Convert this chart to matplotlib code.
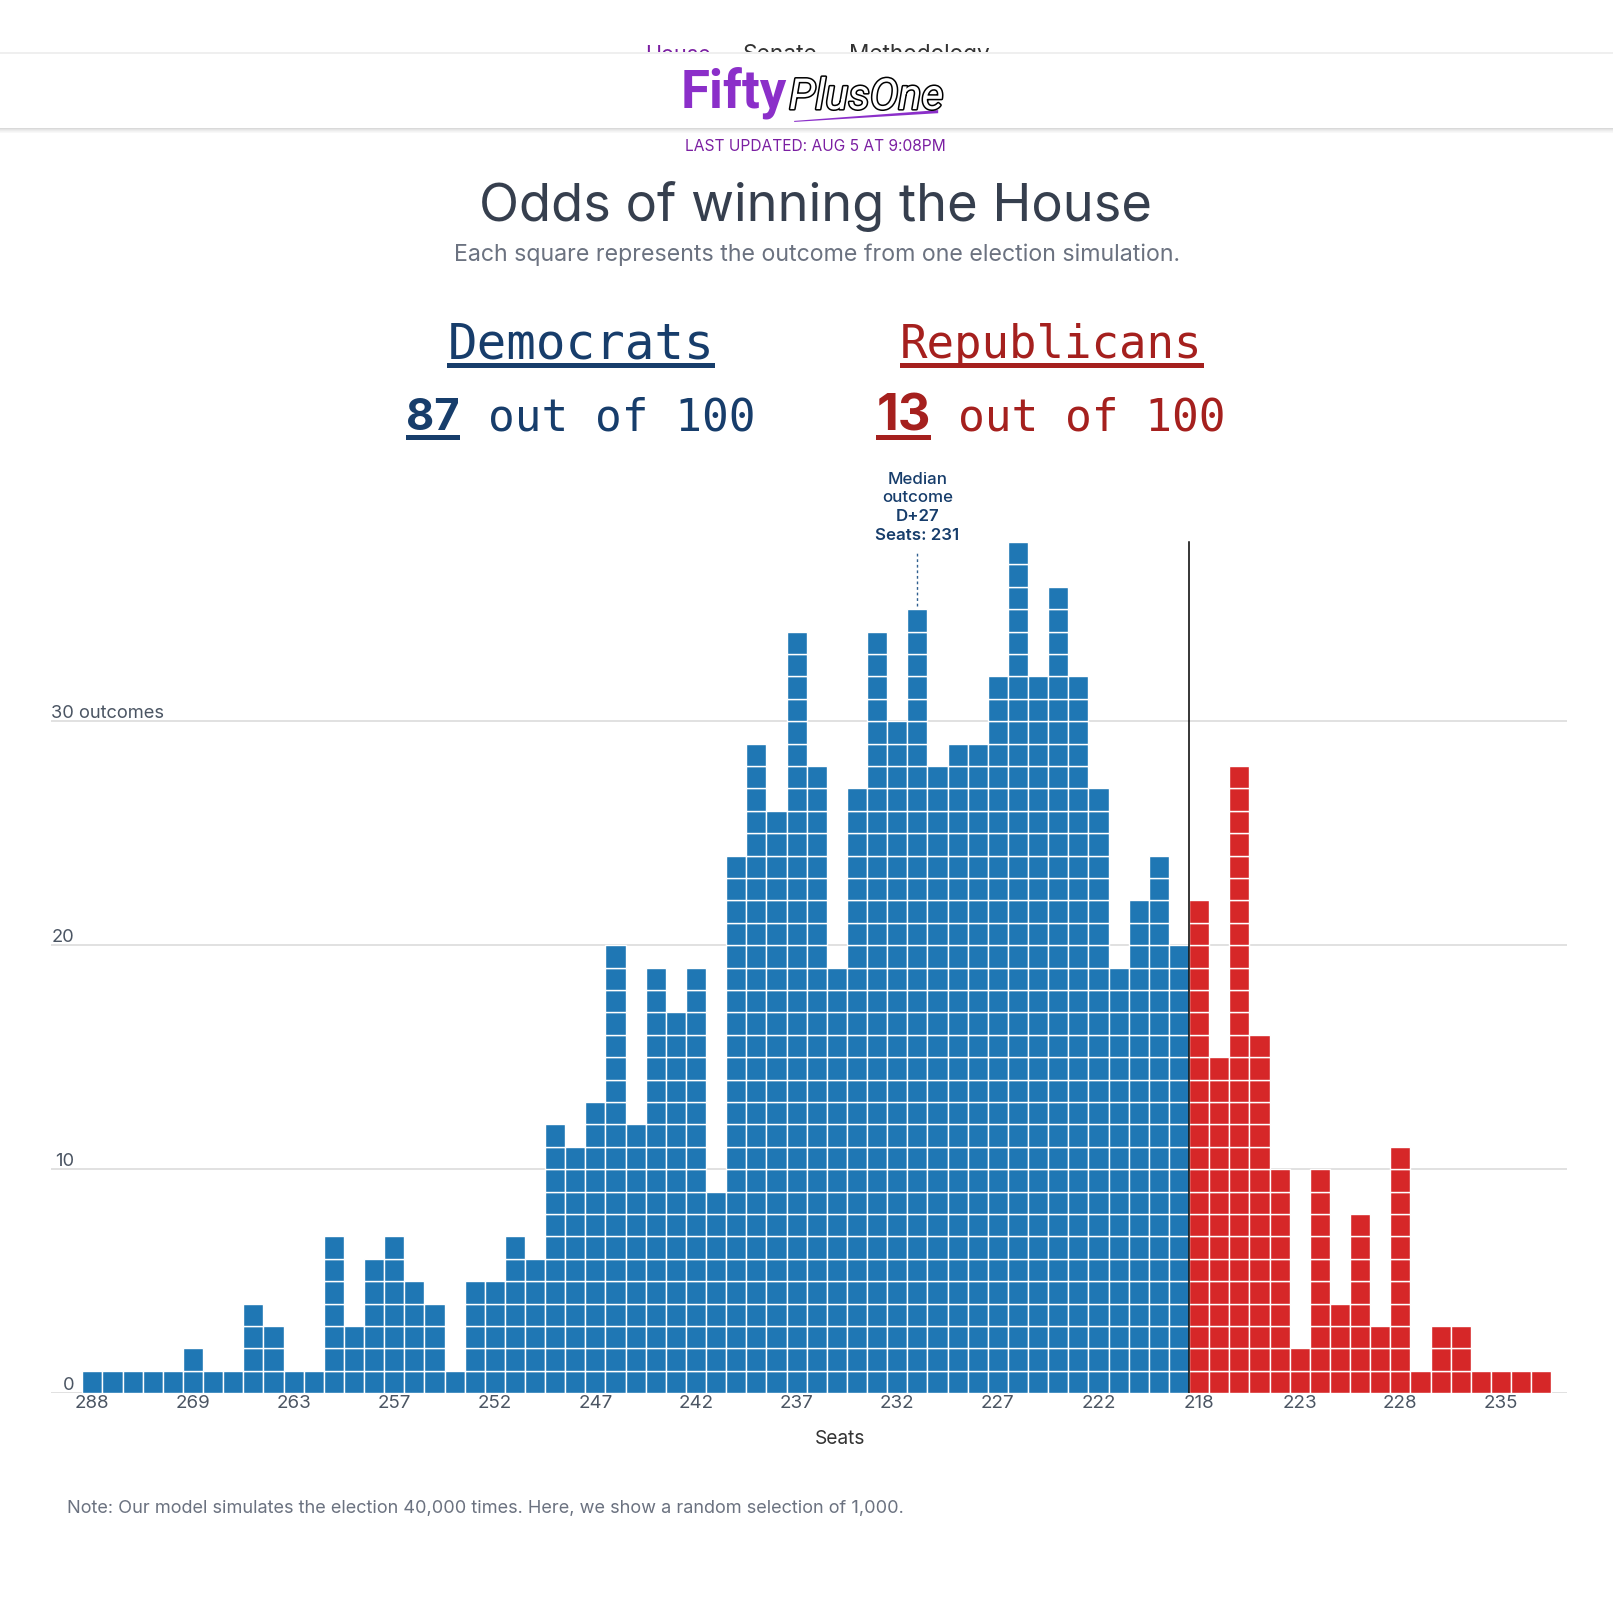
import numpy as np
import matplotlib
matplotlib.use('Agg')
import matplotlib.pyplot as plt
from matplotlib import patheffects
from matplotlib.patches import Rectangle, Polygon
from matplotlib import font_manager

# outcomes per column (1,000 simulations), left = Democratic seat counts, right = Republican
dem_counts = [1, 1, 1, 1, 1, 2, 1, 1, 4, 3, 1, 1, 7, 3, 6, 7, 5, 4, 1, 5, 5, 7, 6,
              12, 11, 13, 20, 12, 19, 17, 19, 9, 24, 29, 26, 34, 28, 19, 27, 34, 30,
              35, 28, 29, 29, 32, 38, 32, 36, 32, 27, 19, 22, 24, 20]
rep_counts = [22, 15, 28, 16, 10, 2, 10, 4, 8, 3, 11, 1, 3, 3, 1, 1, 1, 1]
tick_labels = ['288', '269', '263', '257', '252', '247', '242', '237', '232',
               '227', '222', '218', '223', '228', '235']
y_ticks = [0, 10, 20, 30]
dem_odds = 87
rep_odds = 13
median_col = 41
median_lines = ['Median', 'outcome', 'D+27', 'Seats: 231']

BLUE = '#1f77b4'
RED = '#d62728'
DEM_TXT = '#173d6b'
REP_TXT = '#a5201e'
GREY = '#6b7280'
DARK = '#363f4e'

plt.rcParams['font.family'] = ['Inter', 'DejaVu Sans']

available = {f.name for f in font_manager.fontManager.ttflist}
def pick(*names):
    for n in names:
        if n in available:
            return n
    return 'DejaVu Sans'

narrow = pick('Liberation Sans Narrow', 'Roboto', 'Lato')

W, H = 1613, 1601
fig = plt.figure(figsize=(W / 100, H / 100), dpi=100)
renderer = fig.canvas.get_renderer()
SX = W / 1568


def fx(x):
    return x / 1568


def fy(y):
    return 1 - y / 1556


def put(x, y, s, width=None, ha='left', **kw):
    t = fig.text(fx(x), fy(y), s, ha=ha, va='baseline', **kw)
    if width:
        w = t.get_window_extent(renderer).width
        t.set_fontsize(t.get_fontsize() * width * SX / w)
    return t


def bar_rect(x0, x1, y0, y1, color, z=3):
    fig.add_artist(Rectangle((fx(x0), fy(y1)), fx(x1) - fx(x0), fy(y0) - fy(y1),
                             transform=fig.transFigure, color=color, lw=0, zorder=z))


# nav + header bar
put(627, 59, 'House', width=64, color='#7b1fa2', zorder=4, fontsize=15)
put(722, 59, 'Senate', width=73, color='#333333', zorder=4, fontsize=15)
put(825, 59, 'Methodology', width=137, color='#333333', zorder=4, fontsize=15)
bar_rect(0, 1568, 52, 124, 'white', z=5)
bar_rect(0, 1568, 51, 52.5, '#efefef', z=5)
for i, c in enumerate(['#d9d9d9', '#e4e4e4', '#ececec', '#f3f3f3', '#f8f8f8']):
    bar_rect(0, 1568, 124 + i, 125 + i, c, z=5)

put(662, 104, 'Fifty', width=103, color='#8b2fc9', fontweight='bold',
    family=narrow, zorder=6, fontsize=40)
put(767, 106, 'PlusOne', width=150, color='white', family=narrow, style='italic',
    zorder=6, fontsize=40,
    path_effects=[patheffects.withStroke(linewidth=2.2, foreground='black')])
fig.add_artist(Polygon([(fx(772), fy(117.5)), (fx(912), fy(107)), (fx(912), fy(110)),
                        (fx(772), fy(118.5))], closed=True, transform=fig.transFigure,
                       color='#8b2fc9', lw=0, zorder=6))

put(793, 147, 'LAST UPDATED: AUG 5 AT 9:08PM', width=254, ha='center',
    color='#7b1fa2', fontsize=11)
put(793, 215, 'Odds of winning the House', width=655, ha='center',
    color=DARK, fontsize=40)
put(794, 254, 'Each square represents the outcome from one election simulation.',
    width=708, ha='center', color=GREY, fontsize=15)

# party headlines
put(435, 348, 'Democrats', width=260, color=DEM_TXT, family='DejaVu Sans Mono', fontsize=34)
bar_rect(435, 695, 353, 358, DEM_TXT)
put(395, 418, str(dem_odds), width=52, color=DEM_TXT, fontweight='bold', fontsize=34)
bar_rect(395, 447, 423, 428, DEM_TXT)
put(474, 418, 'out of 100', width=260, color=DEM_TXT, family='DejaVu Sans Mono', fontsize=34)

put(875, 348, 'Republicans', width=295, color=REP_TXT, family='DejaVu Sans Mono', fontsize=34)
bar_rect(875, 1170, 353, 358, REP_TXT)
put(852, 418, str(rep_odds), width=53, color=REP_TXT, fontweight='bold', fontsize=34)
bar_rect(852, 905, 423, 428, REP_TXT)
put(931, 418, 'out of 100', width=261, color=REP_TXT, family='DejaVu Sans Mono', fontsize=34)

# waffle histogram
counts = np.array(dem_counts + rep_counts)
cols = np.arange(len(counts))
colors = np.array([BLUE] * len(dem_counts) + [RED] * len(rep_counts))

ax = fig.add_axes([fx(50), fy(1354), fx(1523) - fx(50), fy(483.2) - fy(1354)])
for k in range(counts.max()):
    m = counts > k
    ax.bar(cols[m], 1, bottom=k, width=1, color=colors[m], edgecolor='white',
           linewidth=1.0, zorder=2)

ax.set_xlim(-2.034, 73.267)
ax.set_ylim(0, 40)
for s in ax.spines.values():
    s.set_visible(False)
ax.set_yticks(y_ticks)
ax.set_yticklabels([])
ax.tick_params(axis='y', length=0)
ax.yaxis.grid(True, color='#d9d9d9', lw=1.1)
ax.set_axisbelow(True)
ax.set_xticks(cols[::5])
ax.set_xticklabels(tick_labels)
ax.tick_params(axis='x', length=0, pad=1.0, labelsize=13.5, labelcolor='#4b5563')

for v in y_ticks:
    if v == y_ticks[-1]:
        ax.text(0.0, v + 0.12, f'{v} outcomes', transform=ax.get_yaxis_transform(),
                ha='left', va='baseline', fontsize=13.2, color='#4b5563')
    else:
        ax.text(0.0149, v + 0.12, str(v), transform=ax.get_yaxis_transform(),
                ha='right', va='baseline', fontsize=13.2, color='#4b5563')

split = len(dem_counts) - 0.5
ax.plot([split, split], [0, counts.max()], color='black', lw=1.1, zorder=4)

top = counts[median_col]
ax.plot([median_col, median_col], [top + 0.15, 37.5], color='#2f5f8f', lw=1,
        ls=(0, (2, 2)), zorder=4)
mx = 80 + (median_col + 0.5) * 19.562
for i, line in enumerate(median_lines):
    wgt = 'medium' if i < 2 else 'semibold'
    put(mx, 470 + i * 18.3, line, ha='center', color=DEM_TXT, fontsize=12.2,
        fontweight=wgt)

put(817, 1403, 'Seats', ha='center', color='#333333', fontsize=13.8)
put(65, 1470, 'Note: Our model simulates the election 40,000 times. Here, we show a random selection of 1,000.',
    width=815, color=GREY, fontsize=12.5)

fig.savefig('out.png', dpi=100)
